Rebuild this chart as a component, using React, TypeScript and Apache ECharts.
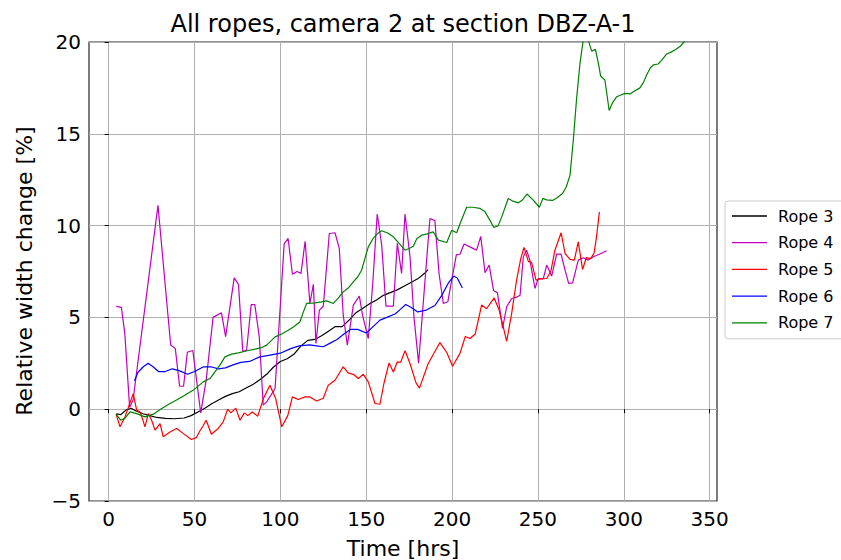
import React, { useEffect, useRef } from "react";
import * as echarts from "echarts";

// Relative width change [%] over time [hrs], one [time, value] pair per sample
const rope3: number[][] = [
  [4.4, -0.25], [7, -0.3], [10, -0.05], [13, 0.05], [16, -0.1], [20, -0.25], [24, -0.35],
  [28, -0.45], [33, -0.5], [38, -0.52], [44, -0.48], [48, -0.35], [52, -0.15], [56, 0.05],
  [60, 0.3], [64, 0.5], [68, 0.7], [72, 0.85], [76, 0.95], [80, 1.15], [84, 1.35], [88, 1.6],
  [92, 1.9], [96, 2.3], [100, 2.6], [104, 2.75], [108, 3.0], [112, 3.45], [116, 3.75],
  [120, 3.8], [124, 4.0], [128, 4.25], [132, 4.5], [136, 4.5], [140, 4.85], [144, 5.25],
  [148, 5.5], [152, 5.75], [156, 5.95], [160, 6.2], [164, 6.35], [168, 6.5], [172, 6.7],
  [176, 6.9], [180, 7.1], [184, 7.4], [186, 7.6],
];

const rope4: number[][] = [
  [4.4, 5.6], [7.4, 5.55], [9.4, 4.1], [12.2, 0.1], [14.2, 0.5], [28.7, 11.1], [36.1, 3.5],
  [38.8, 3.3], [41.3, 1.25], [43.6, 1.25], [45.8, 3.1], [49, 3.2], [53.6, -0.2], [56.8, 1.6],
  [60.8, 5.0], [65.7, 5.25], [68.1, 3.95], [73.1, 7.15], [75.6, 6.8], [78.1, 3.15],
  [80.3, 3.2], [83, 5.7], [85.1, 5.7], [87.7, 3.95], [90, 0.22], [92, 0.4], [96.9, 1.13],
  [102.2, 9.0], [104.5, 9.3], [107, 7.35], [109.7, 7.5], [112, 7.4], [114.4, 9.15],
  [117.2, 5.76], [119.2, 6.8], [120.7, 3.58], [122.7, 5.4], [125, 5.61], [128.5, 9.57],
  [131.8, 9.61], [134.3, 8.76], [136.6, 5.12], [139, 3.49], [142.5, 5.67], [146, 6.16],
  [147.9, 5.1], [151.2, 3.85], [153.8, 6.85], [156.4, 10.63], [159, 8.94], [161.5, 5.61],
  [165.8, 5.61], [168.1, 9.03], [170.6, 7.39], [172.6, 10.63], [175.5, 8.3], [177.8, 5.03],
  [180.5, 2.5], [183.8, 6.49], [187.1, 10.39], [190, 10.27], [192.4, 7.39], [194.9, 5.76],
  [197.5, 5.85], [199.8, 7.03], [202.5, 8.42], [204.6, 8.44], [207, 9.0], [210.4, 8.84],
  [214.3, 8.66], [216.7, 9.41], [219.2, 7.43], [221.6, 7.85], [224.2, 6.45], [226.4, 6.35],
  [229.4, 4.4], [231.8, 5.58], [234.7, 6.03], [237.6, 6.1], [239.6, 6.21], [241.5, 8.3],
  [243.4, 8.66], [245.3, 8.12], [248.3, 6.58], [250.2, 7.12], [253.1, 7.1], [255.1, 7.85],
  [258, 7.25], [260.9, 8.45], [263.5, 8.45], [265.8, 7.57], [267.9, 6.85], [270.2, 6.88],
  [273.5, 8.12], [276.4, 8.25], [279.3, 8.12], [282.3, 8.3], [286.1, 8.45], [290, 8.63],
];

const rope5: number[][] = [
  [4.3, -0.27], [6.6, -0.96], [9.5, -0.42], [14.3, 0.85], [16.3, -0.05], [18.2, -0.15],
  [19.8, -0.55], [21.1, -0.96], [23.1, -0.24], [25, -0.6], [27, -1.14], [29.9, -0.78],
  [31.8, -1.5], [35.7, -1.24], [39.6, -1.05], [43.5, -1.33], [48.2, -1.65], [51, -1.55],
  [53, -1.2], [55, -0.9], [56.8, -0.6], [59.8, -1.36], [63.8, -1.05], [66.7, -0.69],
  [69.3, 0.0], [71.2, -0.2], [74, 0.06], [76.5, -0.6], [79, -0.2], [81, -0.35], [83.6, -0.15],
  [86.8, -0.38], [90.2, 0.6], [93.9, 1.31], [97.2, 0.6], [100.8, -0.96], [104.3, -0.35],
  [107, 0.67], [110.4, 0.53], [114.3, 0.67], [117.2, 0.67], [121.1, 0.45], [125, 0.6],
  [127.9, 1.31], [131.8, 1.58], [136.6, 2.31], [139.5, 1.98], [142.5, 1.9], [145.4, 1.67],
  [148.3, 1.9], [151.2, 1.49], [155.1, 0.31], [158, 0.27], [160.3, 1.4], [163.3, 2.52],
  [165.8, 2.03], [168.1, 2.58], [170, 2.55], [172.6, 3.18], [175.5, 2.49], [179, 1.43],
  [181, 1.15], [186.1, 2.49], [192.9, 3.63], [196.9, 3.09], [200.3, 2.34], [204.6, 3.04],
  [207.7, 3.96], [210.4, 3.85], [213.5, 4.1], [217.2, 5.67], [220.1, 5.47], [224.5, 6.06],
  [227.4, 5.4], [229.8, 4.49], [231.8, 3.7], [234.7, 5.22], [237.6, 7.05], [240, 8.2],
  [241.9, 8.81], [244.4, 8.05], [246.3, 8.0], [248.9, 7.03], [251.2, 7.1], [255.1, 7.12],
  [257.5, 7.5], [259.9, 8.66], [263.5, 9.61], [265.8, 8.48], [268.7, 8.16], [271.2, 8.12],
  [273.5, 9.11], [276, 7.61], [278.2, 8.26], [280.7, 8.2], [282.7, 8.5], [284, 9.3],
  [285.8, 10.75],
];

const rope6: number[][] = [
  [15, 1.55], [17, 2.0], [20, 2.3], [23, 2.5], [26, 2.3], [29, 2.05], [33, 2.05], [37, 2.2],
  [41, 2.1], [46, 1.9], [50, 2.05], [55, 2.3], [60, 2.3], [64, 2.2], [68, 2.25], [72, 2.4],
  [77, 2.55], [82, 2.6], [88, 2.85], [94, 2.95], [100, 3.05], [106, 3.3], [111, 3.45],
  [117, 3.5], [121, 3.45], [125, 3.4], [129, 3.6], [133, 3.8], [137, 4.1], [141, 4.35],
  [145, 4.35], [150, 4.15], [154, 4.5], [158, 4.85], [162, 5.0], [167, 5.2], [170, 5.45],
  [173, 5.7], [176, 5.55], [180, 5.3], [185, 5.4], [190, 5.65], [194, 6.2], [198, 6.9],
  [201, 7.25], [203, 7.15], [206, 6.6],
];

const rope7: number[][] = [
  [4.3, -0.27], [7, -0.6], [9.4, -0.5], [12.4, -0.15], [16.3, -0.24], [21.1, -0.42],
  [26, -0.27], [30.9, 0.04], [35.7, 0.31], [39.5, 0.5], [43.4, 0.71], [49.3, 1.04],
  [55.1, 1.49], [59, 1.67], [61.9, 2.03], [64.8, 2.4], [67.7, 2.85], [71.5, 3.0],
  [75.5, 3.07], [80, 3.17], [85.2, 3.27], [89, 3.35], [92, 3.49], [96.9, 3.94], [100.7, 4.1],
  [104.6, 4.3], [108, 4.5], [111.4, 4.76], [113.4, 5.3], [115.3, 5.76], [120.2, 5.79],
  [124, 5.85], [127, 5.9], [130.8, 5.76], [133.7, 6.05], [136.6, 6.39], [139.5, 6.6],
  [142.5, 6.94], [145, 7.2], [147.3, 7.57], [149.5, 8.3], [151.2, 8.84], [154, 9.3],
  [157, 9.6], [159, 9.72], [162.5, 9.6], [165.8, 9.39], [169, 9.05], [172.6, 8.66],
  [175, 8.75], [177.4, 8.88], [179.5, 9.3], [182.3, 9.48], [185.5, 9.55], [189, 9.66],
  [192, 9.21], [196.9, 9.08], [199.8, 9.75], [202.7, 9.61], [205, 10.2], [208.5, 11.0],
  [212, 11.0], [216.2, 10.94], [219.2, 10.75], [222, 10.3], [224.3, 9.9], [226.9, 10.0],
  [229.3, 10.57], [232.7, 11.48], [235, 11.35], [238.6, 11.24], [241, 11.4], [243.6, 11.72],
  [247.3, 11.39], [250.8, 11.0], [252.9, 11.48], [255, 11.4], [258.5, 11.37], [261, 11.5],
  [264.3, 11.75], [266.5, 12.1], [268.7, 12.75], [270.6, 14.66], [272.6, 17.0],
  [274.5, 18.84], [276.4, 20.1], [277.8, 20.6], [279.8, 19.95], [281.3, 19.5], [283.5, 19.6],
  [285.5, 18.7], [286.5, 18.15], [289, 17.93], [291.5, 16.27], [293.5, 16.7], [295.9, 17.02],
  [298, 17.1], [300.7, 17.2], [303.6, 17.17], [306.5, 17.35], [309.4, 17.5], [311.5, 17.8],
  [313.3, 18.2], [315.5, 18.6], [317.2, 18.75], [320, 18.8], [322, 19.0], [325, 19.35],
  [327.5, 19.45], [329.8, 19.56], [332.7, 19.75], [334.7, 19.96], [337.5, 20.25],
];

const ropeNames = ["Rope 3", "Rope 4", "Rope 5", "Rope 6", "Rope 7"];
const ropeColors = ["#000000", "#bf00bf", "#ff0000", "#0000ff", "#008000"];
const ropeData = [rope3, rope4, rope5, rope6, rope7];

const xTicks = [0, 50, 100, 150, 200, 250, 300, 350];
const xRange = [-11.47, 354.3];
const yRange = [-5, 20];

const FONT = "DejaVu Sans";
// thin horizontal bar used as the legend's line sample
const LINE_ICON = "path://M0,0H35V1.3H0Z";

const fmt = (v: number) => (v < 0 ? "\u2212" + Math.abs(v) : String(v));

export default function App() {
  const ref = useRef<HTMLDivElement>(null);

  useEffect(() => {
    if (!ref.current) return;
    const chart = echarts.init(ref.current, null, { renderer: "svg" });
    chart.setOption({
      animation: false,
      backgroundColor: "#ffffff",
      textStyle: { fontFamily: FONT },
      grid: {
        left: 89,
        right: 124,
        top: 42,
        bottom: 59,
        show: true,
        borderColor: "#262626",
        borderWidth: 1.2,
        backgroundColor: "transparent",
      },
      graphic: [
        {
          type: "text",
          x: 403,
          y: 24,
          style: {
            text: "All ropes, camera 2 at section DBZ-A-1",
            font: `24px ${FONT}`,
            fill: "#000",
            align: "center",
            verticalAlign: "middle",
          },
        },
        {
          type: "text",
          x: 403,
          y: 548,
          style: {
            text: "Time [hrs]",
            font: `22px ${FONT}`,
            fill: "#000",
            align: "center",
            verticalAlign: "middle",
          },
        },
        {
          type: "text",
          x: 24,
          y: 271,
          rotation: Math.PI / 2,
          style: {
            text: "Relative width change [%]",
            font: `22px ${FONT}`,
            fill: "#000",
            align: "center",
            verticalAlign: "middle",
          },
        },
      ],
      legend: {
        orient: "vertical",
        left: 725,
        top: 201,
        data: ropeNames.map((name) => ({ name, icon: LINE_ICON })),
        itemWidth: 35,
        itemHeight: 16,
        itemGap: 10.7,
        symbolKeepAspect: true,
        padding: [7, 12, 8, 7],
        backgroundColor: "#ffffff",
        borderColor: "#cccccc",
        borderWidth: 1,
        borderRadius: 3,
        textStyle: { fontFamily: FONT, fontSize: 16, color: "#000", padding: [0, 0, 0, 6] },
      },
      xAxis: {
        type: "value",
        min: xRange[0],
        max: xRange[1],
        axisLine: { show: false },
        axisTick: { show: true, length: 4, customValues: xTicks, lineStyle: { color: "#000" } },
        axisLabel: {
          customValues: xTicks,
          fontSize: 20,
          fontFamily: FONT,
          color: "#000",
          margin: 8,
          formatter: fmt,
        },
        splitLine: { show: true, lineStyle: { color: "#b0b0b0", width: 1 } },
      },
      yAxis: {
        type: "value",
        min: yRange[0],
        max: yRange[1],
        interval: 5,
        axisLine: { show: false },
        axisTick: { show: true, length: 4, lineStyle: { color: "#000" } },
        axisLabel: {
          fontSize: 20,
          fontFamily: FONT,
          color: "#000",
          margin: 8,
          formatter: fmt,
        },
        splitLine: { show: true, lineStyle: { color: "#b0b0b0", width: 1 } },
      },
      series: ropeNames.map((name, i) => ({
        name,
        type: "line",
        data: ropeData[i],
        symbol: "none",
        clip: true,
        color: ropeColors[i],
        itemStyle: { color: ropeColors[i] },
        lineStyle: { color: ropeColors[i], width: 1.2 },
      })),
    });
    return () => chart.dispose();
  }, []);

  return (
    <div
      ref={ref}
      style={{ position: "fixed", left: 0, top: 0, width: 841, height: 560, background: "#fff" }}
    />
  );
}
